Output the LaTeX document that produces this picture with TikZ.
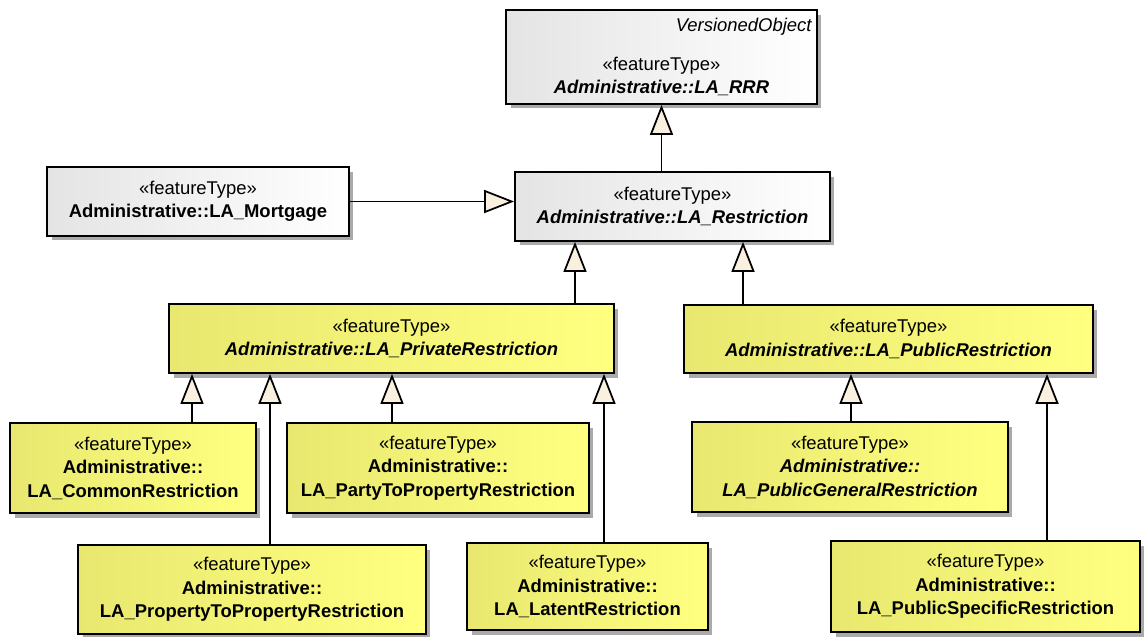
\documentclass[tikz,border=0pt]{standalone}
\usepackage{fontspec}
\setmainfont{Liberation Sans}
\usetikzlibrary{arrows.meta,positioning,shadows,calc}
\definecolor{eayellow}{RGB}{255,255,128}
\definecolor{eadarkyellow}{RGB}{232,232,112}
\definecolor{eagrey}{RGB}{228,228,228}
\definecolor{eatip}{RGB}{250,240,224}
\definecolor{eashadow}{RGB}{170,170,170}

\begin{document}
\begin{tikzpicture}[
    x=0.02cm, y=-0.02cm,
    font=\fontsize{10.5}{13.4}\selectfont,
    cls/.style={draw, line width=1pt, align=center, inner sep=2pt,
        drop shadow={shadow xshift=0.09cm, shadow yshift=-0.09cm, fill=eashadow, opacity=1}},
    greycls/.style={cls, left color=eagrey, right color=white},
    yellowcls/.style={cls, left color=eadarkyellow, right color=eayellow},
    gen/.style={line width=1pt, -{Triangle[length=0.6cm, width=0.46cm, fill=eatip]}}
]

% Abstract root
\node[greycls, minimum width=6.22cm, minimum height=1.88cm] (rrr) at (661.5,57)
    {\makebox[6.0cm][r]{\itshape VersionedObject}\\[0.3cm]
     «featureType»\\ \textbf{\textit{Administrative::LA\_RRR}}};

% Second level
\node[greycls, minimum width=6.04cm, minimum height=1.38cm] (mortgage) at (198,201.5)
    {«featureType»\\ \textbf{Administrative::LA\_Mortgage}};
\node[greycls, minimum width=6.30cm, minimum height=1.38cm] (restriction) at (672.5,206.5)
    {«featureType»\\ \textbf{\textit{Administrative::LA\_Restriction}}};

% Private and public restrictions
\node[yellowcls, minimum width=8.90cm, minimum height=1.38cm] (privres) at (391.5,338.5)
    {«featureType»\\ \textbf{\textit{Administrative::LA\_PrivateRestriction}}};
\node[yellowcls, minimum width=8.18cm, minimum height=1.36cm] (pubres) at (888.5,339)
    {«featureType»\\ \textbf{\textit{Administrative::LA\_PublicRestriction}}};

% Leaf classes
\node[yellowcls, minimum width=4.92cm, minimum height=1.80cm] (commonres) at (133,468)
    {«featureType»\\ \textbf{Administrative::}\\ \textbf{LA\_CommonRestriction}};
\node[yellowcls, minimum width=6.04cm, minimum height=1.80cm] (partyres) at (438,468)
    {«featureType»\\ \textbf{Administrative::}\\ \textbf{LA\_PartyToPropertyRestriction}};
\node[yellowcls, minimum width=6.96cm, minimum height=1.78cm] (propres) at (252,589.5)
    {«featureType»\\ \textbf{Administrative::}\\ \textbf{LA\_PropertyToPropertyRestriction}};
\node[yellowcls, minimum width=4.82cm, minimum height=1.74cm] (latentres) at (587.5,586.5)
    {«featureType»\\ \textbf{Administrative::}\\ \textbf{LA\_LatentRestriction}};
\node[yellowcls, minimum width=6.32cm, minimum height=1.80cm] (pubgenres) at (850,467)
    {«featureType»\\ \textbf{\textit{Administrative::}}\\ \textbf{\textit{LA\_PublicGeneralRestriction}}};
\node[yellowcls, minimum width=6.18cm, minimum height=1.82cm] (pubspecres) at (985.5,586.5)
    {«featureType»\\ \textbf{Administrative::}\\ \textbf{LA\_PublicSpecificRestriction}};

% Connector positions
\coordinate (xpriv) at (575,0);
\coordinate (xpub) at (743,0);
\coordinate (xcommon) at (192,0);
\coordinate (xprop) at (270,0);
\coordinate (xparty) at (392,0);
\coordinate (xlatent) at (604,0);
\coordinate (xpubgen) at (851,0);
\coordinate (xpubspec) at (1047,0);

% Generalizations
\draw[gen] (restriction.north -| rrr.south) -- (rrr.south);
\draw[gen] (mortgage.east) -- (mortgage.east -| restriction.west);
\draw[gen] (xpriv |- privres.north) -- (xpriv |- restriction.south);
\draw[gen] (xpub |- pubres.north) -- (xpub |- restriction.south);

\draw[gen] (xcommon |- commonres.north) -- (xcommon |- privres.south);
\draw[gen] (xprop |- propres.north) -- (xprop |- privres.south);
\draw[gen] (xparty |- partyres.north) -- (xparty |- privres.south);
\draw[gen] (xlatent |- latentres.north) -- (xlatent |- privres.south);

\draw[gen] (xpubgen |- pubgenres.north) -- (xpubgen |- pubres.south);
\draw[gen] (xpubspec |- pubspecres.north) -- (xpubspec |- pubres.south);

\useasboundingbox (0,0) rectangle (1148,636);
\end{tikzpicture}
\end{document}
